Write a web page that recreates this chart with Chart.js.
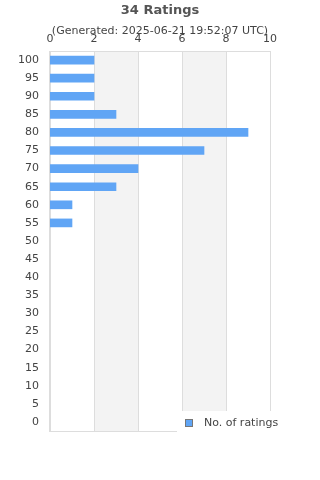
<!DOCTYPE html>
<html>
<head>
<meta charset="utf-8">
<script src="https://cdn.jsdelivr.net/npm/chart.js@4"></script>
<style>
  html, body { margin: 0; padding: 0; background: #fff; }
  #wrap { width: 320px; height: 480px; }
</style>
</head>
<body>
<div id="wrap"><canvas id="ratingsChart" width="320" height="480"></canvas></div>
<script>
// rating buckets, top to bottom as shown
const categories = ['100', '95', '90', '85', '80', '75', '70', '65', '60', '55', '50',
    '45', '40', '35', '30', '25', '20', '15', '10', '5', '0'];
const ratingCounts = [2, 2, 2, 3, 9, 7, 4, 3, 1, 1, 0, 0, 0, 0, 0, 0, 0, 0, 0, 0, 0];
const xTicks = [0, 2, 4, 6, 8, 10];
const seriesLabel = 'No. of ratings';
const titleText = '34 Ratings';
const subtitleText = '(Generated: 2025-06-21 19:52:07 UTC)';

const barColor = '#60a5f5';
const gridColor = '#dddddd';
const bandColor = '#f3f3f3';
const textColor = '#444444';

// shaded bands between every other pair of x ticks, plus the plot frame
const bandsPlugin = {
    id: 'bands',
    beforeDatasetsDraw(chart) {
        const { ctx, chartArea, scales } = chart;
        const x = scales.x;
        ctx.save();
        ctx.fillStyle = bandColor;
        for (let i = 1; i + 1 < xTicks.length; i += 2) {
            const x0 = x.getPixelForValue(xTicks[i]);
            const x1 = x.getPixelForValue(xTicks[i + 1]);
            ctx.fillRect(x0, chartArea.top, x1 - x0, chartArea.bottom - chartArea.top);
        }
        ctx.strokeStyle = gridColor;
        ctx.lineWidth = 1;
        xTicks.forEach(v => {
            const px = Math.round(x.getPixelForValue(v)) + 0.5;
            ctx.beginPath();
            ctx.moveTo(px, chartArea.top);
            ctx.lineTo(px, chartArea.bottom);
            ctx.stroke();
        });
        const t = Math.round(chartArea.top) + 0.5;
        const b = Math.round(chartArea.bottom) + 0.5;
        ctx.beginPath();
        ctx.moveTo(chartArea.left, t);
        ctx.lineTo(chartArea.right, t);
        ctx.moveTo(chartArea.left, b);
        ctx.lineTo(chartArea.right, b);
        ctx.stroke();
        ctx.restore();
    }
};

// legend box that sits over the lower right corner of the plot
const cornerLegend = {
    id: 'cornerLegend',
    afterDraw(chart) {
        const { ctx, chartArea } = chart;
        const ds = chart.data.datasets[0];
        ctx.save();
        ctx.fillStyle = '#ffffff';
        ctx.fillRect(chartArea.right - 93, chartArea.bottom - 20, 120, 30);
        const sx = chartArea.right - 85;
        const sy = chartArea.bottom - 12;
        ctx.fillStyle = ds.backgroundColor;
        ctx.fillRect(sx, sy, 8, 8);
        ctx.strokeStyle = '#777777';
        ctx.lineWidth = 1;
        ctx.strokeRect(sx + 0.5, sy + 0.5, 7, 7);
        ctx.fillStyle = textColor;
        ctx.font = '11px "DejaVu Sans"';
        ctx.textBaseline = 'middle';
        ctx.textAlign = 'left';
        ctx.fillText(ds.label, sx + 19, sy + 4);
        ctx.restore();
    }
};

const ctx = document.getElementById('ratingsChart').getContext('2d');
new Chart(ctx, {
    type: 'bar',
    data: {
        labels: categories,
        datasets: [{
            label: seriesLabel,
            // empty buckets get no bar at all
            data: ratingCounts.map(v => (v > 0 ? v : null)),
            backgroundColor: barColor,
            borderWidth: 0,
            barThickness: 8
        }]
    },
    options: {
        indexAxis: 'y',
        responsive: false,
        animation: false,
        layout: {
            padding: { left: 7, right: 50, bottom: 49, top: 0 }
        },
        plugins: {
            legend: { display: false },
            tooltip: { enabled: false },
            title: {
                display: true,
                fullSize: false,
                text: titleText,
                color: '#555555',
                font: { family: 'DejaVu Sans', size: 13, weight: 'bold' },
                padding: { top: 3, bottom: 5 }
            },
            subtitle: {
                display: true,
                fullSize: false,
                text: subtitleText,
                color: textColor,
                font: { family: 'DejaVu Sans', size: 11 },
                padding: { top: 1, bottom: -10 }
            }
        },
        scales: {
            x: {
                position: 'top',
                min: xTicks[0],
                max: xTicks[xTicks.length - 1],
                afterBuildTicks(axis) {
                    axis.ticks = xTicks.map(v => ({ value: v }));
                },
                grid: { display: false, drawTicks: false },
                border: { display: false },
                ticks: {
                    color: textColor,
                    font: { family: 'DejaVu Sans', size: 11 },
                    padding: 5,
                    maxRotation: 0
                }
            },
            y: {
                grid: { display: false, drawTicks: false },
                border: { display: true, color: gridColor },
                ticks: {
                    color: textColor,
                    font: { family: 'DejaVu Sans', size: 11 },
                    padding: 11,
                    autoSkip: false
                }
            }
        }
    },
    plugins: [bandsPlugin, cornerLegend]
});
</script>
</body>
</html>
